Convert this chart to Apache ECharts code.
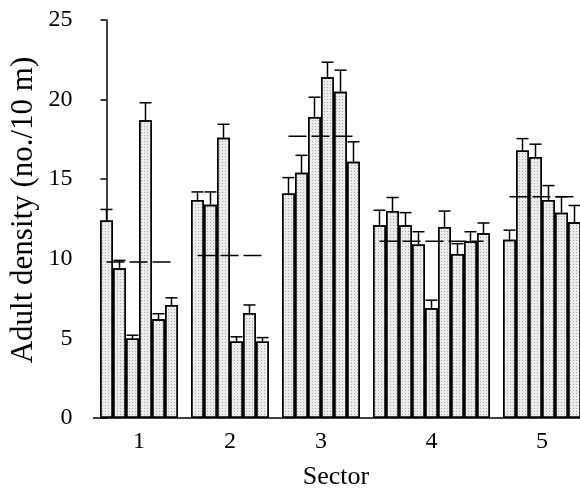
<!DOCTYPE html>
<html>
<head>
<meta charset="utf-8">
<script src="https://cdn.jsdelivr.net/npm/echarts@6/dist/echarts.min.js"></script>
<style>
html,body{margin:0;padding:0;background:#fff;}
#c{width:580px;height:492px;}
</style>
</head>
<body>
<div id="c"></div>
<script>
// ---- data ----
var sectorLabels = ['1', '2', '3', '4', '5'];
var sector1 = [12.4, 9.4, 5.0, 18.7, 6.2, 7.1];
var sector2 = [13.7, 13.4, 17.6, 4.8, 6.6, 4.8];
var sector3 = [14.1, 15.4, 18.9, 21.4, 20.5, 16.1];
var sector4 = [12.1, 13.0, 12.1, 10.9, 6.9, 12.0, 10.3, 11.1, 11.6];
var sector5 = [11.2, 16.8, 16.4, 13.7, 12.9, 12.3];
var err1 = [0.7, 0.5, 0.2, 1.1, 0.35, 0.45];
var err2 = [0.5, 0.8, 0.85, 0.3, 0.5, 0.25];
var err3 = [1.0, 1.1, 1.25, 0.95, 1.35, 1.25];
var err4 = [0.95, 0.85, 0.8, 0.8, 0.5, 1.0, 0.65, 0.6, 0.65];
var err5 = [0.6, 0.75, 0.8, 0.9, 1.0, 1.05];
var sectorMeans = [9.8, 10.2, 17.7, 11.1, 13.9];
var yTicks = [0, 5, 10, 15, 20, 25];

var sectors = [sector1, sector2, sector3, sector4, sector5];
var errs = [err1, err2, err3, err4, err5];

// slot positions: bars side by side, one empty slot between sectors
var barData = [], errData = [], centers = [], meanSeries = [];
var pos = 0;
sectors.forEach(function (vals, s) {
  var first = pos;
  vals.forEach(function (v, i) {
    barData.push([pos, v]);
    errData.push([pos, v, errs[s][i]]);
    pos++;
  });
  var last = pos - 1;
  centers.push((first + last) / 2);
  meanSeries.push({
    type: 'line',
    data: [[first, sectorMeans[s]], [last, sectorMeans[s]]],
    symbol: 'none',
    silent: true,
    z: 5,
    lineStyle: { color: '#000', width: 1.5, type: [18, 5] }
  });
  pos++;
});

var chart = echarts.init(document.getElementById('c'), null, { renderer: 'canvas' });
var serif = 'Liberation Serif';
var slot = 13;
var gridLeft = 93.5;
var gridWidth = 580 - gridLeft;
var option = {
  animation: false,
  backgroundColor: '#fff',
  grid: { left: gridLeft, top: 20, height: 398, width: gridWidth, containLabel: false },
  xAxis: {
    type: 'value',
    min: -1,
    max: -1 + gridWidth / slot,
    splitLine: { show: false },
    axisLine: { show: true, onZero: false, lineStyle: { color: '#000', width: 1.5 } },
    axisTick: { show: false },
    axisLabel: {
      customValues: centers,
      formatter: function (v) {
        var k = centers.indexOf(v);
        return k >= 0 ? sectorLabels[k] : '';
      },
      fontFamily: serif, fontSize: 24, color: '#000', margin: 12
    }
  },
  yAxis: {
    type: 'value',
    min: yTicks[0],
    max: yTicks[yTicks.length - 1],
    interval: 5,
    splitLine: { show: false },
    axisLine: { show: true, lineStyle: { color: '#000', width: 1.5 } },
    axisTick: { show: true, length: 6, lineStyle: { color: '#000', width: 1.5 } },
    axisLabel: { fontFamily: serif, fontSize: 24, color: '#000', margin: 21 }
  },
  series: [
    {
      type: 'bar',
      data: barData,
      barWidth: slot,
      z: 2,
      itemStyle: {
        color: '#ececec', borderColor: '#000', borderWidth: 1.5,
        decal: { symbol: 'rect', symbolSize: 1, color: 'rgba(90,90,90,0.45)', dashArrayX: [1, 2], dashArrayY: [1, 2], rotation: 0 }
      }
    },
    {
      type: 'custom',
      data: errData,
      z: 4,
      renderItem: function (params, api) {
        var x = api.value(0), v = api.value(1), e = api.value(2);
        var p0 = api.coord([x, v]);
        var p1 = api.coord([x, v + e]);
        var hw = 6;
        return {
          type: 'group',
          children: [
            { type: 'line', shape: { x1: p0[0], y1: p0[1], x2: p1[0], y2: p1[1] }, style: { stroke: '#000', lineWidth: 1.5 } },
            { type: 'line', shape: { x1: p1[0] - hw, y1: p1[1], x2: p1[0] + hw, y2: p1[1] }, style: { stroke: '#000', lineWidth: 1.5 } }
          ]
        };
      }
    }
  ].concat(meanSeries),
  graphic: [
    {
      type: 'text',
      x: 24, y: 210,
      rotation: Math.PI / 2,
      style: { text: 'Adult density (no./10 m)', font: '31px "Liberation Serif"', fill: '#000', align: 'center', verticalAlign: 'middle' }
    },
    {
      type: 'text',
      x: 336, y: 477,
      style: { text: 'Sector', font: '26px "Liberation Serif"', fill: '#000', align: 'center', verticalAlign: 'middle' }
    }
  ]
};
chart.setOption(option);
</script>
</body>
</html>
